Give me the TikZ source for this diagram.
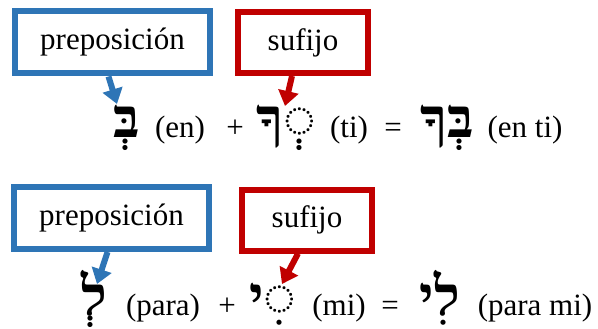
\documentclass[tikz,border=0pt]{standalone}
\usepackage{fontspec}
\setmainfont{Liberation Serif}
\newfontfamily\hebfont[Script=Hebrew]{Liberation Serif}
\TeXXeTstate=1
\usetikzlibrary{arrows.meta}
\definecolor{prepblue}{RGB}{46,117,182}
\definecolor{sufred}{RGB}{192,0,0}
\begin{document}
\begin{tikzpicture}[x=1pt,y=-1pt,
    txt/.style={inner sep=0pt, anchor=base, font=\fontsize{31}{36}\selectfont},
    heb/.style={inner sep=0pt, anchor=base, font=\fontsize{55}{62}\selectfont\hebfont\bfseries},
    label/.style={rectangle, draw, line width=6pt, fill=white, font=\fontsize{31}{36}\selectfont},
    prep/.style={label, draw=prepblue, minimum width=195pt, minimum height=62pt},
    suf/.style={label, draw=sufred, minimum width=130pt, minimum height=61pt},
    parrow/.style={draw=prepblue, line width=6pt, -{Triangle[length=15pt,width=20pt]}},
    sarrow/.style={draw=sufred, line width=6pt, -{Triangle[length=15pt,width=20pt]}}
]
\useasboundingbox (0,0) rectangle (598,329);

% first line
\node[prep] (prep1) at (112.5,42.5) {preposición};
\node[suf] (suf1) at (303,42.5) {sufijo};
\node[heb] (bet) at (127,138) {\beginR בְּ\endR};
\node[txt] (en) at (180,138) {(en)};
\node[txt] (plus1) at (235,138) {+};
\node[heb] (kaf) at (286,138) {\beginR ◌ְךָ\endR};
\node[txt] (ti) at (349,138) {(ti)};
\node[txt] (eq1) at (393,138) {=};
\node[heb] (beka) at (447,138) {\beginR בְּךָ\endR};
\node[txt] (enti) at (525,138) {(en ti)};
\coordinate (tip1) at (117,104);
\coordinate (tip2) at (285,106);
\draw[parrow] ([xshift=-4pt]prep1.south) -- (tip1);
\draw[sarrow] ([xshift=-11pt]suf1.south) -- (tip2);

% second line
\node[prep] (prep2) at (111.5,218) {preposición};
\node[suf] (suf2) at (307,220) {sufijo};
\node[heb] (lamed) at (94,315) {\beginR לְ\endR};
\node[txt] (para) at (163,315) {(para)};
\node[txt] (plus2) at (227,315) {+};
\node[heb] (yod) at (273,315) {\beginR ◌ִי\endR};
\node[txt] (mi) at (339,315) {(mi)};
\node[txt] (eq2) at (390,315) {=};
\node[heb] (li) at (440,315) {\beginR לִי\endR};
\node[txt] (parami) at (535,315) {(para mi)};
\coordinate (tip3) at (97,284);
\coordinate (tip4) at (282,284);
\draw[parrow] ([xshift=-4pt]prep2.south) -- (tip3);
\draw[sarrow] ([xshift=-9pt]suf2.south) -- (tip4);
\end{tikzpicture}
\end{document}
